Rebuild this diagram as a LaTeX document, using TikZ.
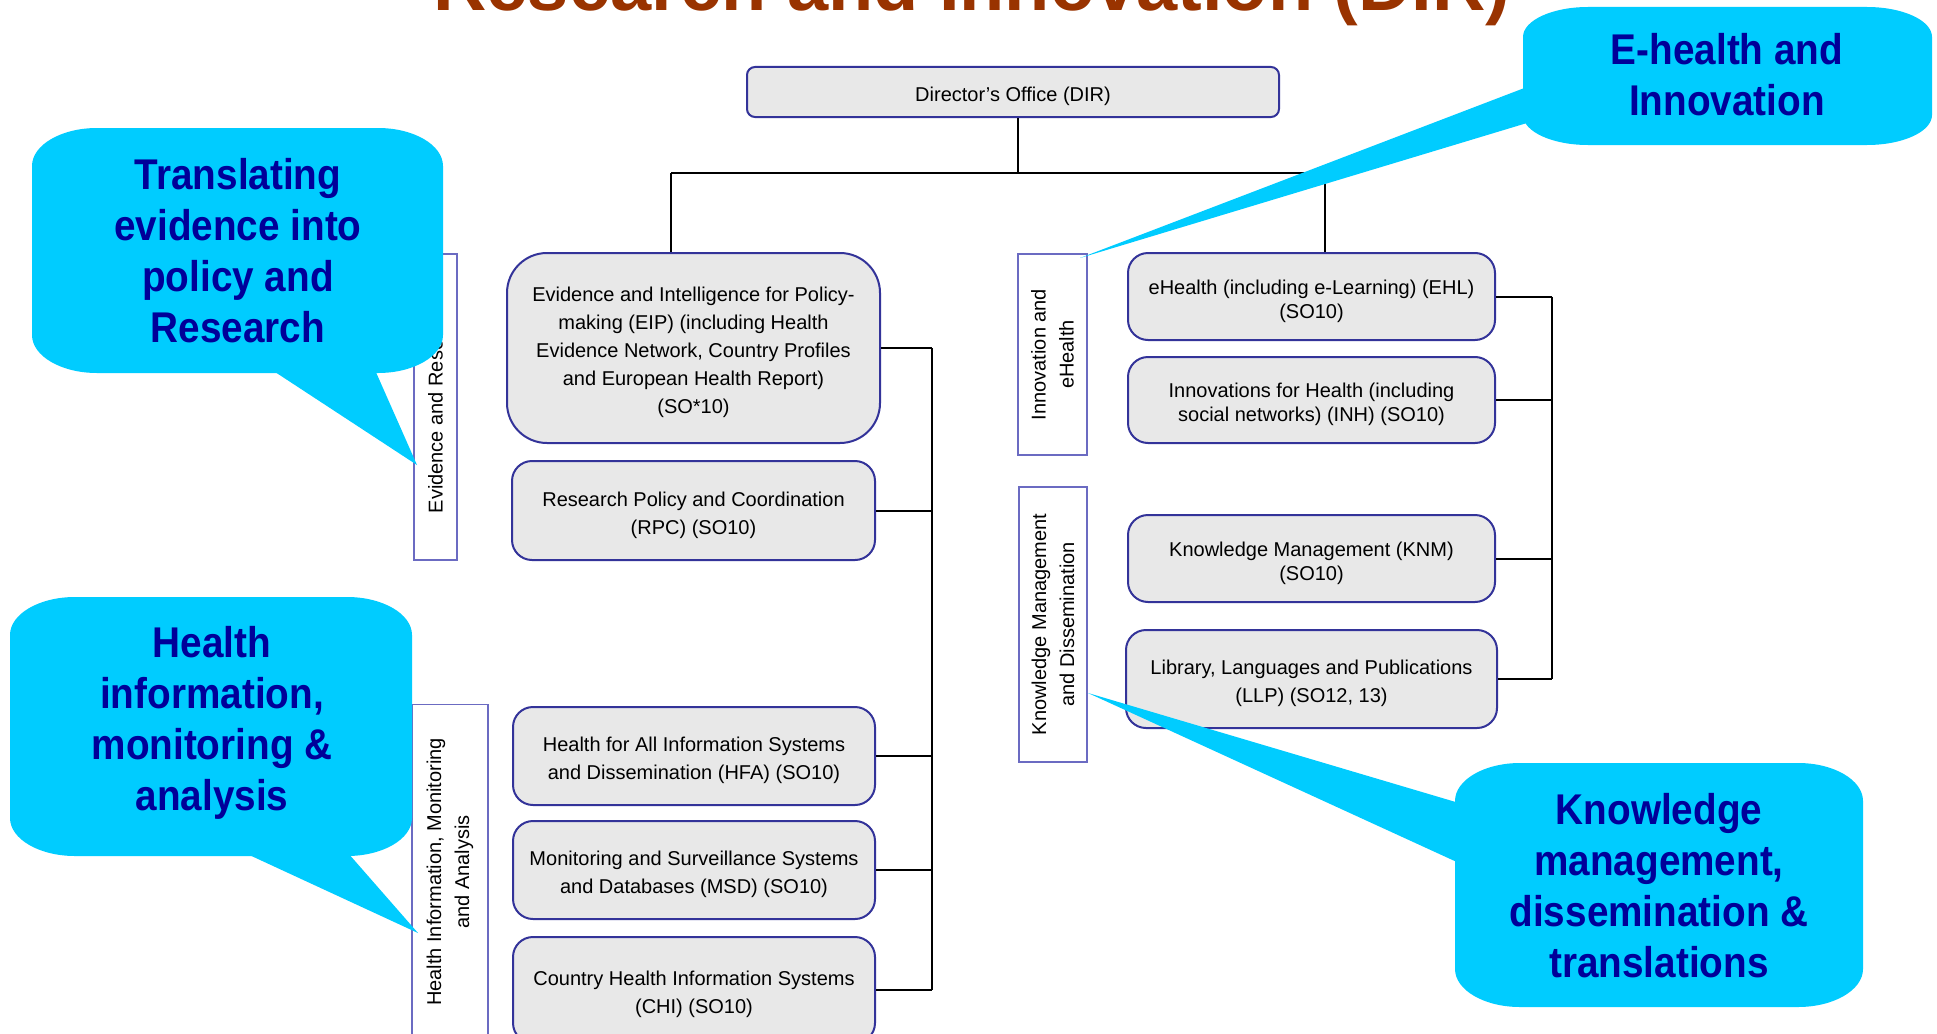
\documentclass[tikz,border=0pt]{standalone}
\usepackage{fontspec}
\setmainfont{Liberation Sans}
\newfontfamily\callfont[FakeStretch=0.9]{Liberation Sans}
\definecolor{boxfill}{HTML}{E8E8E8}
\definecolor{boxline}{HTML}{333399}
\definecolor{labline}{HTML}{6B6BC2}
\definecolor{callfill}{HTML}{00CCFF}
\definecolor{calltext}{HTML}{000099}
\definecolor{titlec}{HTML}{993300}
\newcommand{\firstst}{\rule{0pt}{24pt}}
\newcommand{\bubble}[6]{%
  \fill[callfill] ({#1+#5},#2) -- ({#3-#5},#2)
    arc[start angle=270,end angle=360,x radius=#5,y radius=#6] -- (#3,{#4-#6})
    arc[start angle=0,end angle=90,x radius=#5,y radius=#6] -- ({#1+#5},#4)
    arc[start angle=90,end angle=180,x radius=#5,y radius=#6] -- (#1,{#2+#6})
    arc[start angle=180,end angle=270,x radius=#5,y radius=#6] -- cycle;}
\tikzset{
  unitbox/.style={draw=boxline, fill=boxfill, line width=2pt, rounded corners=20pt,
    inner sep=0pt, align=center, font=\fontsize{20}{28}\selectfont},
  tightbox/.style={unitbox, font=\fontsize{20}{24}\selectfont},
  labbox/.style={draw=labline, fill=white, line width=1.3pt, inner sep=0pt,
    align=center, rotate=90, font=\fontsize{20}{28}\selectfont},
  conn/.style={draw=black, line width=2pt},
  calltxt/.style={text=calltext, align=center, inner sep=0pt,
    font=\callfont\bfseries\fontsize{43}{51}\selectfont},
}
\begin{document}
\begin{tikzpicture}[x=1pt,y=-1pt]
\clip (0,0) rectangle (1937,1033);
\fill[white] (0,0) rectangle (1937,1033);

% title
\node[anchor=base, inner sep=0pt, text=titlec, font=\bfseries\fontsize{74}{74}\selectfont] (title) at (972,11) {Research and Innovation (DIR)};

% main boxes
\node[unitbox, rounded corners=8pt, minimum width=532pt, minimum height=50pt] (DIR) at (1013,92) {\firstst Director’s Office (DIR)};

\node[unitbox, rounded corners=40pt, minimum width=373pt, minimum height=190pt] (EIP) at (693.5,348) {\firstst Evidence and Intelligence for Policy-\\making (EIP) (including Health\\Evidence Network, Country Profiles\\and European Health Report)\\(SO*10)};
\node[unitbox, minimum width=363pt, minimum height=99pt] (RPC) at (693.5,510.5) {\firstst Research Policy and Coordination\\(RPC) (SO10)};
\node[unitbox, minimum width=362pt, minimum height=98pt] (HFA) at (694,756) {\firstst Health for All Information Systems\\and Dissemination (HFA) (SO10)};
\node[unitbox, minimum width=362pt, minimum height=98pt] (MSD) at (694,870) {\firstst Monitoring and Surveillance Systems\\and Databases (MSD) (SO10)};
\node[unitbox, minimum width=362pt, minimum height=106pt] (CHI) at (694,990) {\firstst Country Health Information Systems\\(CHI) (SO10)};

\node[tightbox, minimum width=367pt, minimum height=87pt] (EHL) at (1311.5,296.5) {\firstst eHealth (including e-Learning) (EHL)\\(SO10)};
\node[tightbox, minimum width=367pt, minimum height=86pt] (INH) at (1311.5,400) {\firstst Innovations for Health (including\\social networks) (INH) (SO10)};
\node[tightbox, minimum width=367pt, minimum height=87pt] (KNM) at (1311.5,558.5) {\firstst Knowledge Management (KNM)\\(SO10)};
\node[unitbox, minimum width=371pt, minimum height=98pt] (LLP) at (1311.5,679) {\firstst Library, Languages and Publications\\(LLP) (SO12, 13)};

% connectors
\coordinate (stem) at (1018,173);
\coordinate (dropL) at (671,173);
\coordinate (dropR) at (1325,173);
\coordinate (lbus) at (932,0);
\coordinate (rbus) at (1551.5,0);
\draw[conn] (stem |- DIR.south) -- (stem);
\draw[conn] (dropL) -- (dropR);
\draw[conn] (dropL) -- (dropL |- EIP.north);
\draw[conn] (dropR) -- (dropR |- EHL.north);
\foreach \n in {EIP,RPC,HFA,MSD,CHI} \draw[conn] (\n.east) -- (\n.east -| lbus);
\draw[conn] (EIP.east -| lbus) -- (CHI.east -| lbus);
\foreach \n in {EHL,INH,KNM,LLP} \draw[conn] (\n.east) -- (\n.east -| rbus);
\draw[conn] (EHL.east -| rbus) -- (LLP.east -| rbus);

% group labels
\node[labbox, minimum width=306pt, minimum height=43pt] (ER) at (435.5,407) {Evidence and Research};
\node[labbox, minimum width=335pt, minimum height=76pt] (HIMA) at (450,872) {Health Information, Monitoring\\and Analysis};
\node[labbox, minimum width=201pt, minimum height=69pt] (IE) at (1052.5,354.5) {Innovation and\\eHealth};
\node[labbox, minimum width=275pt, minimum height=68pt] (KMD) at (1053,624.5) {Knowledge Management\\and Dissemination};

% callouts
\bubble{32}{128}{443}{373}{65}{38}
\fill[callfill] (272,370) -- (375,370) -- (417,465) -- cycle;
\bubble{10}{597}{412}{856}{65}{38}
\fill[callfill] (245,853) -- (348,853) -- (418,933) -- cycle;
\bubble{1523}{7}{1932}{145}{65}{30}
\fill[callfill] (1527,87) -- (1527,123) -- (1080,258) -- cycle;
\bubble{1455}{763}{1863}{1007}{65}{38}
\fill[callfill] (1459,803) -- (1459,863) -- (1088,693) -- cycle;

\node[calltxt] (c1) at (238,251) {Translating\\evidence into\\policy and\\Research};
\node[calltxt] (c2) at (212,723) {Health\\information,\\monitoring \&\\analysis};
\node[calltxt] (c3) at (1727,75) {E-health and\\Innovation};
\node[calltxt] (c4) at (1659,886) {Knowledge\\management,\\dissemination \&\\translations};
\end{tikzpicture}
\end{document}
